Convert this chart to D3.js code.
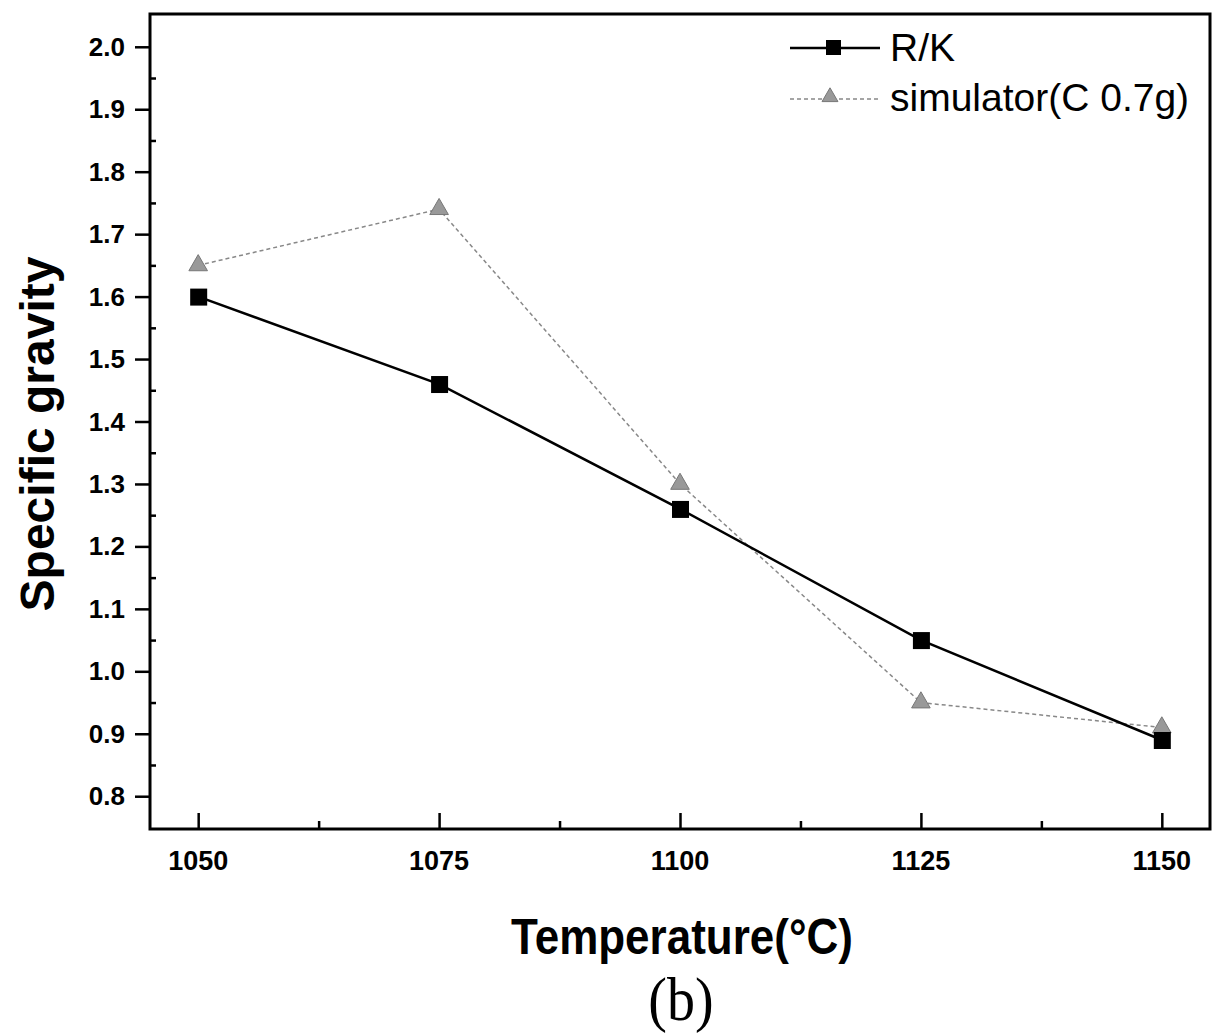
<!DOCTYPE html>
<html>
<head>
<meta charset="utf-8">
<script src="https://cdn.jsdelivr.net/npm/d3@7"></script>
<style>
  body { margin: 0; background: #fff; }
  text { font-family: "Liberation Sans", Arial, sans-serif; }
</style>
</head>
<body>
<script>
// data
const temps = [1050, 1075, 1100, 1125, 1150];
const rkValues = [1.60, 1.46, 1.26, 1.05, 0.89];
const simValues = [1.65, 1.74, 1.30, 0.95, 0.91];
const yTicks = [0.8, 0.9, 1.0, 1.1, 1.2, 1.3, 1.4, 1.5, 1.6, 1.7, 1.8, 1.9, 2.0];
const seriesNames = ['R/K', 'simulator(C 0.7g)'];

const W = 1215, H = 1035;
const plotLeft = 150, plotRight = 1210, plotTop = 14, plotBottom = 829;

const svg = d3.select('body').append('svg')
  .attr('width', W)
  .attr('height', H);

const x = d3.scaleLinear().domain([1045, 1155]).range([plotLeft, plotRight]);
const y = d3.scaleLinear().domain([0.7475, 2.0525]).range([plotBottom, plotTop]);

// frame
svg.append('rect')
  .attr('x', plotLeft).attr('y', plotTop)
  .attr('width', plotRight - plotLeft).attr('height', plotBottom - plotTop)
  .attr('fill', 'none').attr('stroke', '#000').attr('stroke-width', 3);

// x axis: major ticks inward, minor in between
const xAxis = svg.append('g')
  .attr('transform', `translate(0,${plotBottom})`)
  .call(d3.axisTop(x).tickValues(temps).tickSize(16).tickFormat(''));
xAxis.select('.domain').remove();
xAxis.selectAll('line').attr('stroke-width', 2.5);
svg.append('g')
  .attr('transform', `translate(0,${plotBottom})`)
  .call(d3.axisTop(x).tickValues(temps.slice(0, -1).map(t => t + 12.5)).tickSize(8).tickFormat(''))
  .call(g => g.select('.domain').remove())
  .selectAll('line').attr('stroke-width', 2.5);

svg.selectAll('.xlab')
  .data(temps)
  .enter().append('text')
  .attr('x', d => x(d))
  .attr('y', 870)
  .attr('text-anchor', 'middle')
  .attr('font-size', 27)
  .attr('font-weight', 'bold')
  .text(d => d);

// y axis: major ticks outward, minor inward
const yAxis = svg.append('g')
  .attr('transform', `translate(${plotLeft},0)`)
  .call(d3.axisLeft(y).tickValues(yTicks).tickSize(15).tickFormat(''));
yAxis.select('.domain').remove();
yAxis.selectAll('line').attr('stroke-width', 2.5);
svg.append('g')
  .attr('transform', `translate(${plotLeft},0)`)
  .call(d3.axisRight(y).tickValues(yTicks.slice(0, -1).map(v => v + 0.05)).tickSize(6).tickFormat(''))
  .call(g => g.select('.domain').remove())
  .selectAll('line').attr('stroke-width', 2.5);

svg.selectAll('.ylab')
  .data(yTicks)
  .enter().append('text')
  .attr('x', 125)
  .attr('y', d => y(d) + 9)
  .attr('text-anchor', 'end')
  .attr('font-size', 26)
  .attr('font-weight', 'bold')
  .text(d => d.toFixed(1));

// axis titles
svg.append('text')
  .attr('transform', 'translate(682,954)scale(1,1.15)')
  .attr('text-anchor', 'middle')
  .attr('font-size', 44)
  .attr('font-weight', 'bold')
  .text('Temperature(°C)');

svg.append('text')
  .attr('transform', 'translate(54,434)rotate(-90)')
  .attr('text-anchor', 'middle')
  .attr('font-size', 48)
  .attr('font-weight', 'bold')
  .text('Specific gravity');

svg.append('text')
  .attr('transform', 'translate(681,1020)scale(1,1.1)')
  .attr('text-anchor', 'middle')
  .attr('font-size', 56)
  .style('font-family', '"Liberation Serif", "Times New Roman", serif')
  .text('(b)');

// lines
const line = d3.line()
  .x((d, i) => x(temps[i]))
  .y(d => y(d));

svg.append('path')
  .datum(simValues)
  .attr('d', line)
  .attr('fill', 'none')
  .attr('stroke', '#888')
  .attr('stroke-width', 1.5)
  .attr('stroke-dasharray', '4,3');

svg.append('path')
  .datum(rkValues)
  .attr('d', line)
  .attr('fill', 'none')
  .attr('stroke', '#000')
  .attr('stroke-width', 2.5);

const tri = d3.symbol().type(d3.symbolTriangle).size(150);
svg.selectAll('.tri')
  .data(simValues)
  .enter().append('path')
  .attr('transform', (d, i) => `translate(${x(temps[i])},${y(d)})`)
  .attr('d', tri)
  .attr('fill', '#999')
  .attr('stroke', '#777');

svg.selectAll('.sq')
  .data(rkValues)
  .enter().append('rect')
  .attr('x', (d, i) => x(temps[i]) - 8)
  .attr('y', d => y(d) - 8)
  .attr('width', 17).attr('height', 17)
  .attr('fill', '#000');

// legend
const lg = svg.append('g');
lg.append('line').attr('x1', 790).attr('x2', 880).attr('y1', 48).attr('y2', 48)
  .attr('stroke', '#000').attr('stroke-width', 2.5);
lg.append('rect').attr('x', 826).attr('y', 40).attr('width', 15).attr('height', 15).attr('fill', '#000');
lg.append('text').attr('x', 890).attr('y', 61).attr('font-size', 39).text(seriesNames[0]);

lg.append('line').attr('x1', 790).attr('x2', 880).attr('y1', 99).attr('y2', 99)
  .attr('stroke', '#888').attr('stroke-width', 1.5).attr('stroke-dasharray', '4,3');
lg.append('path').attr('transform', 'translate(830,97)')
  .attr('d', d3.symbol().type(d3.symbolTriangle).size(110))
  .attr('fill', '#999').attr('stroke', '#777');
lg.append('text').attr('x', 890).attr('y', 111).attr('font-size', 39).text(seriesNames[1]);
</script>
</body>
</html>
